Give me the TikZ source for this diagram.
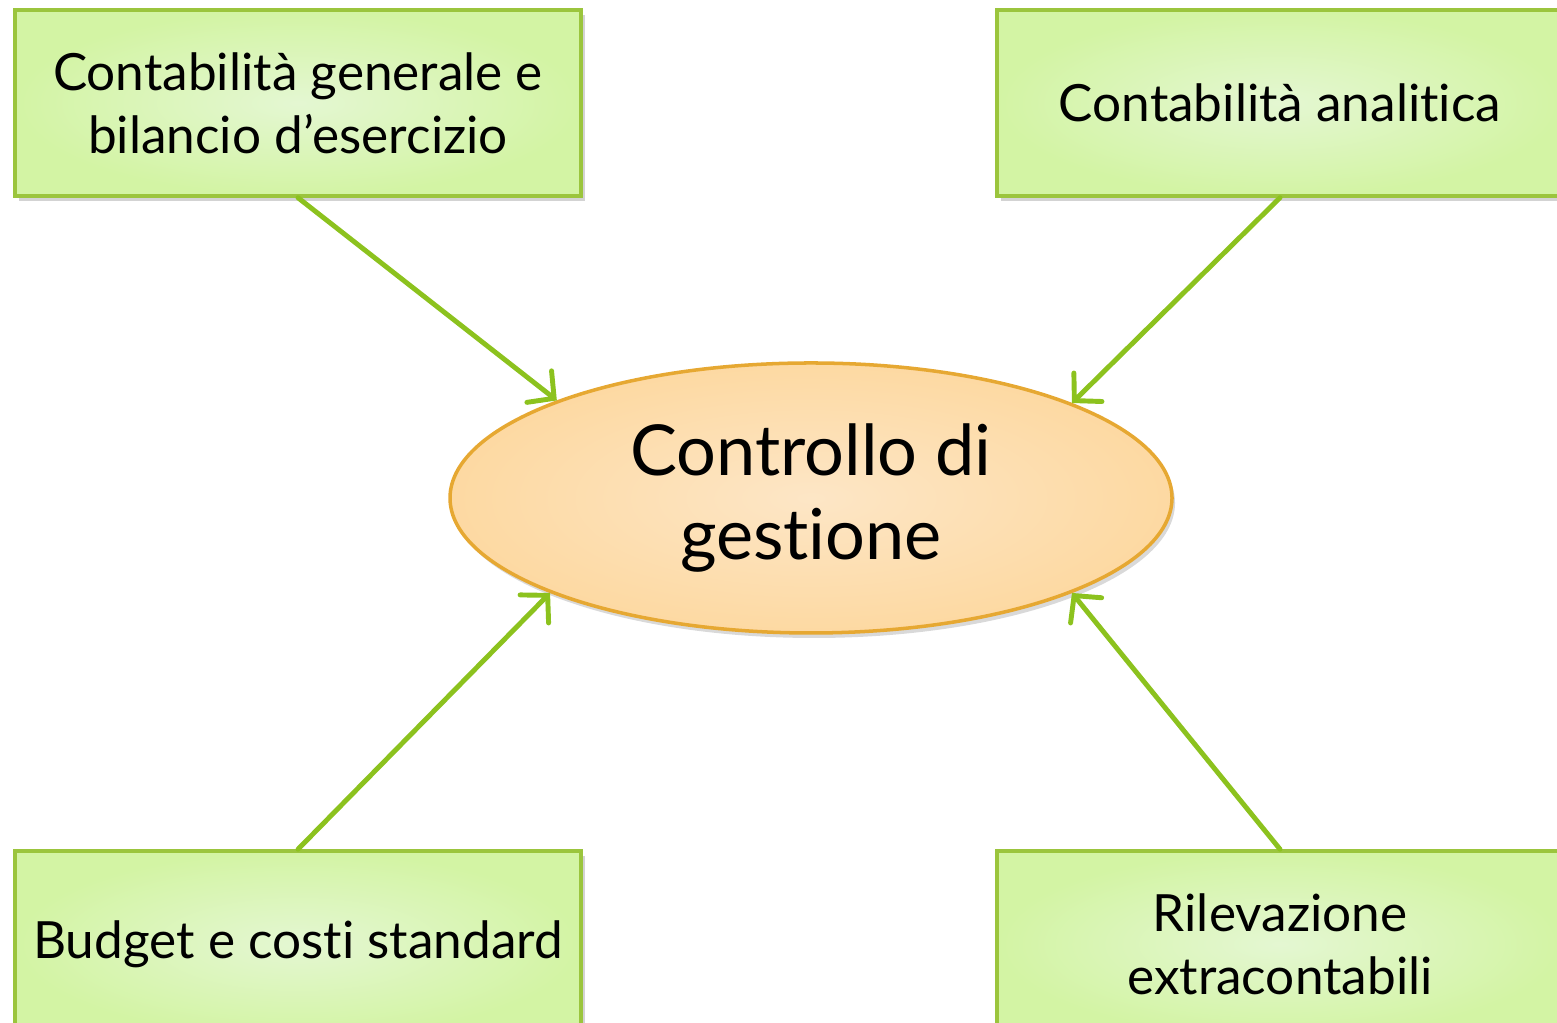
\documentclass[tikz,border=0pt]{standalone}
\usepackage{fontspec}
\setmainfont{Lato}[Ligatures=NoCommon]
\usepackage{tikz}
\usetikzlibrary{positioning, shadows, arrows.meta, shapes.geometric}

\definecolor{boxline}{HTML}{9BC53D}
\definecolor{boxin}{HTML}{E4F7D2}
\definecolor{boxout}{HTML}{D3F4A4}
\definecolor{hubline}{HTML}{E6A832}
\definecolor{hubin}{HTML}{FDE6C6}
\definecolor{hubout}{HTML}{FDD9A2}
\definecolor{arrowgreen}{HTML}{8CC21E}

\begin{document}
\begin{tikzpicture}[on grid,
    box/.style={rectangle, draw=boxline, line width=1pt, inner color=boxin, outer color=boxout,
                minimum width=5.66cm, minimum height=1.86cm, align=center,
                font=\fontsize{14.6}{18}\selectfont,
                drop shadow={shadow xshift=0.04cm, shadow yshift=-0.05cm, opacity=0.35}},
    hub/.style={ellipse, draw=hubline, line width=1pt, inner color=hubin, outer color=hubout,
                minimum width=7.22cm, minimum height=2.70cm, align=center,
                font=\fontsize{20}{24}\selectfont,
                drop shadow={shadow xshift=0.03cm, shadow yshift=-0.05cm, opacity=0.3}},
    feed/.style={draw=arrowgreen, line width=1.4pt, line cap=round,
                 -{Straight Barb[length=0.19cm, width=0.4cm, line cap=round]}}]
      \useasboundingbox (0,0) rectangle (15.57,10.23);
      \node[hub] (cdg) at (8.11,5.25) {Controllo di\\gestione};
      \node[box] (cge) [above left=3.95cm and 5.13cm of cdg] {Contabilità generale e\\bilancio d’esercizio};
      \node[box] (ca) [above right=3.95cm and 4.69cm of cdg] {Contabilità analitica};
      \node[box] (bcs) [below left=4.46cm and 5.13cm of cdg] {Budget e costi standard};
      \node[box] (re) [below right=4.46cm and 4.69cm of cdg] {Rilevazione\\extracontabili};
      \draw[feed] (cge.south) -- (cdg.159.4);
      \draw[feed] (ca.south) -- (cdg.20.5);
      \draw[feed] (bcs.north) -- (cdg.200.9);
      \draw[feed] (re.north) -- (cdg.-20.9);
\end{tikzpicture}
\end{document}
